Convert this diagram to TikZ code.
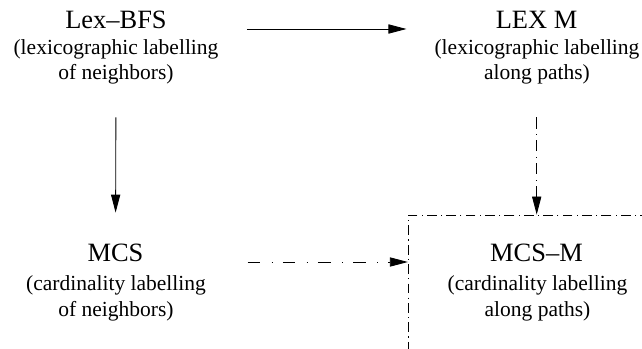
\documentclass[tikz,border=0pt]{standalone}
\usepackage{fontspec}
\setmainfont{Liberation Serif}
\usetikzlibrary{arrows.meta,positioning}

\begin{document}
\begin{tikzpicture}[
  title/.style={inner sep=0pt, anchor=base, font=\fontsize{18.8}{22}\selectfont},
  sub/.style={inner sep=0pt, anchor=base, align=center, font=\fontsize{15.3}{18}\selectfont},
  boxline/.style={line width=0.6pt, dash pattern=on 7pt off 3pt on 0.8pt off 3pt},
  mcsbox/.style={draw, boxline, minimum width=6.42cm, minimum height=3.875cm},
  arr/.style={-{Triangle[length=4.5mm,width=2.3mm]}, line width=0.6pt},
  downchain/.style={arr, dash pattern=on 8pt off 4pt on 0.8pt off 3.5pt},
  sidechain/.style={arr, dash pattern=on 9pt off 8pt on 1pt off 7pt}
]
\useasboundingbox (0,0) rectangle (16.05,-8.725);
\clip (0,0) rectangle (16.05,-8.725);

% base of a two-line node is the baseline of its last line
\node[title] (lexbfs) at (2.9,-0.725) {Lex--BFS};
\node[sub] (lexbfs-sub) at (2.9,-2.0) {(lexicographic labelling\\of neighbors)};
\node[title] (lexm) at (13.4125,-0.725) {LEX M};
\node[sub] (lexm-sub) at (13.425,-2.0) {(lexicographic labelling\\along paths)};
\node[title] (mcs) at (2.8875,-6.55) {MCS};
\node[sub] (mcs-sub) at (2.9,-7.9) {(cardinality labelling\\of neighbors)};
\node[mcsbox] (mcsmbox) at (13.4175,-7.3125) {};
\node[title] (mcsm) at (13.4125,-6.55) {MCS--M};
\node[sub] (mcsm-sub) at (13.4375,-7.9) {(cardinality labelling\\along paths)};

\draw[arr, shorten <=2.0cm, shorten >=2.225cm] (lexbfs.base east)--(lexm.base west);
\draw[arr, shorten <=0.81cm, shorten >=0.79cm] (lexbfs-sub.south)--(mcs.north);
\draw[downchain, shorten <=0.81cm] (mcsmbox.north |- lexm-sub.south)--(mcsmbox.north);
\draw[sidechain, shorten <=2.6cm] (mcs.base east)--(mcs.base east -| mcsmbox.west);
\end{tikzpicture}
\end{document}
